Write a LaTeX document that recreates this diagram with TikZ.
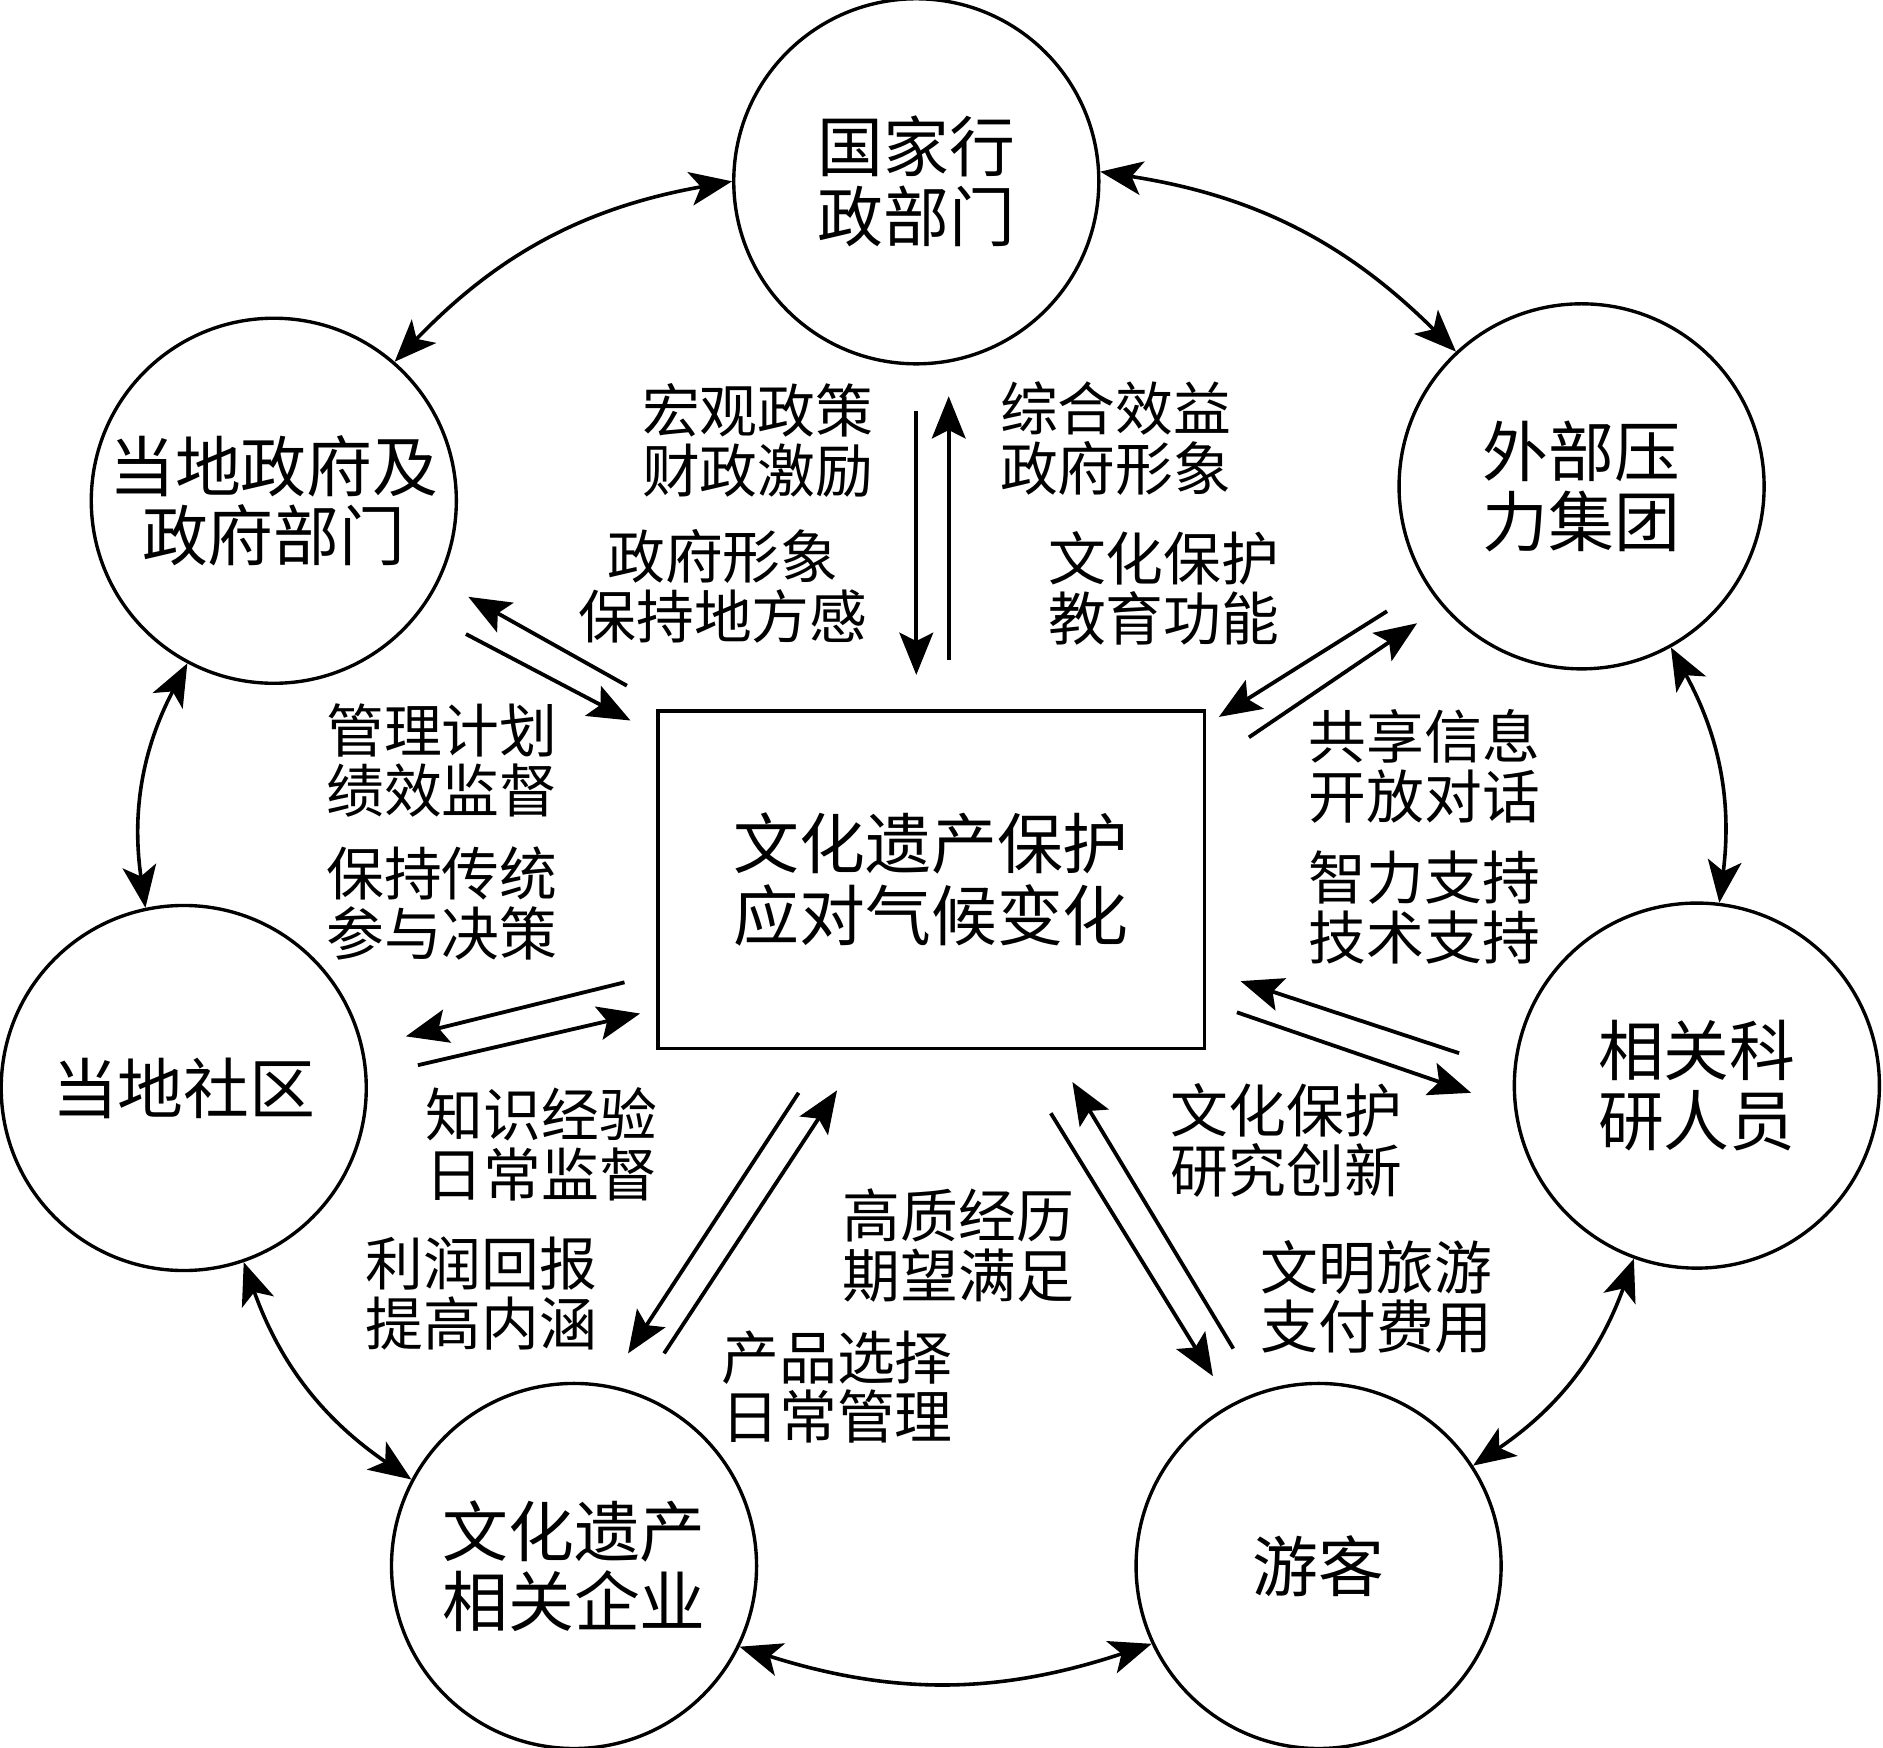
\documentclass[tikz,border=0pt]{standalone}
\usepackage{fontspec}
\newfontfamily\cjk{Noto Sans CJK SC}
\usetikzlibrary{calc,arrows.meta}

\tikzset{
  kor/.style={circle, draw, line width=0.8pt, minimum size=3.04cm, inner sep=0pt,
    align=center, font=\cjk\fontsize{15.6}{16.5}\selectfont},
  cimke/.style={align=center, inner sep=0pt, font=\cjk\fontsize{13.7}{14.2}\selectfont},
  nyil/.style={line width=0.9pt, -{Stealth[length=10pt,width=8pt,inset=2pt]}},
  ketnyil/.style={line width=0.85pt,
    {Stealth[length=10pt,width=8pt,inset=2.5pt]}-{Stealth[length=10pt,width=8pt,inset=2.5pt]}}
}

\begin{document}
\begin{tikzpicture}
        % A kép határai
        \useasboundingbox (0,0) rectangle (15.68,14.55);
        % Elhelyezzük a hét szereplőt körökben
        \node[kor] (guojia) at (7.63,13.04) {国家行\\政部门};
        \node[kor] (difang) at (2.28,10.38) {当地政府及\\政府部门};
        \node[kor] (waibu) at (13.17,10.50) {外部压\\力集团};
        \node[kor] (shequ) at (1.53,5.49) {当地社区};
        \node[kor] (keyan) at (14.13,5.51) {相关科\\研人员};
        \node[kor] (qiye) at (4.78,1.51) {文化遗产\\相关企业};
        \node[kor] (youke) at (10.98,1.51) {游客};
        % A középső téglalap
        \node[draw, line width=0.8pt, minimum width=4.55cm, minimum height=2.81cm,
          align=center, font=\cjk\fontsize{15.6}{17}\selectfont] (kozep) at (7.755,7.225)
          {文化遗产保护\\应对气候变化};
        % A körök közötti kétirányú ívek
        \draw[ketnyil] (guojia.3) to[bend left=18] (waibu.133);
        \draw[ketnyil] (waibu.299) to[bend left=18] (keyan.83);
        \draw[ketnyil] (keyan.250) to[bend left=18] (youke.33);
        \draw[ketnyil] (youke.205) to[bend left=18] (qiye.334);
        \draw[ketnyil] (qiye.152) to[bend left=18] (shequ.289);
        \draw[ketnyil] (shequ.102) to[bend left=18] (difang.242);
        \draw[ketnyil] (difang.49) to[bend left=18] (guojia.180);
        % A nyílpárok végpontjai
        \coordinate (ga1) at (7.63,11.13);  \coordinate (ga2) at (7.63,8.93);
        \coordinate (gb1) at (7.90,9.05);   \coordinate (gb2) at (7.90,11.25);
        \coordinate (da1) at (5.22,8.84);   \coordinate (da2) at (3.90,9.58);
        \coordinate (db1) at (3.88,9.27);   \coordinate (db2) at (5.25,8.55);
        \coordinate (wa1) at (11.55,9.46);  \coordinate (wa2) at (10.15,8.58);
        \coordinate (wb1) at (10.40,8.41);  \coordinate (wb2) at (11.80,9.36);
        \coordinate (sa1) at (5.20,6.37);   \coordinate (sa2) at (3.38,5.92);
        \coordinate (sb1) at (3.48,5.68);   \coordinate (sb2) at (5.33,6.11);
        \coordinate (ka1) at (12.15,5.78);  \coordinate (ka2) at (10.33,6.38);
        \coordinate (kb1) at (10.30,6.12);  \coordinate (kb2) at (12.25,5.45);
        \coordinate (qa1) at (6.65,5.45);   \coordinate (qa2) at (5.23,3.28);
        \coordinate (qb1) at (5.53,3.28);   \coordinate (qb2) at (6.97,5.47);
        \coordinate (ya1) at (8.75,5.28);   \coordinate (ya2) at (10.10,3.09);
        \coordinate (yb1) at (10.27,3.32);  \coordinate (yb2) at (8.93,5.54);
        % Megrajzoljuk a nyílpárokat
        \draw[nyil] (ga1) -- (ga2);
        \draw[nyil] (gb1) -- (gb2);
        \draw[nyil] (da1) -- (da2);
        \draw[nyil] (db1) -- (db2);
        \draw[nyil] (wa1) -- (wa2);
        \draw[nyil] (wb1) -- (wb2);
        \draw[nyil] (sa1) -- (sa2);
        \draw[nyil] (sb1) -- (sb2);
        \draw[nyil] (ka1) -- (ka2);
        \draw[nyil] (kb1) -- (kb2);
        \draw[nyil] (qa1) -- (qa2);
        \draw[nyil] (qb1) -- (qb2);
        \draw[nyil] (ya1) -- (ya2);
        \draw[nyil] (yb1) -- (yb2);
        % Beírjuk a feliratokat
        \node[cimke] (t1) at (6.31,10.88) {宏观政策\\财政激励};
        \node[cimke] (t2) at (6.02,9.67) {政府形象\\保持地方感};
        \node[cimke] (t3) at (9.29,10.90) {综合效益\\政府形象};
        \node[cimke] (t4) at (9.69,9.65) {文化保护\\教育功能};
        \node[cimke] (t5) at (3.68,8.22) {管理计划\\绩效监督};
        \node[cimke] (t6) at (3.68,7.03) {保持传统\\参与决策};
        \node[cimke] (t7) at (11.86,8.17) {共享信息\\开放对话};
        \node[cimke] (t8) at (11.86,6.99) {智力支持\\技术支持};
        \node[cimke] (t9) at (4.51,5.02) {知识经验\\日常监督};
        \node[cimke] (t10) at (4.01,3.78) {利润回报\\提高内涵};
        \node[cimke] (t11) at (7.98,4.18) {高质经历\\期望满足};
        \node[cimke] (t12) at (6.97,3.00) {产品选择\\日常管理};
        \node[cimke] (t13) at (10.71,5.05) {文化保护\\研究创新};
        \node[cimke] (t14) at (11.46,3.75) {文明旅游\\支付费用};
\end{tikzpicture}
\end{document}
